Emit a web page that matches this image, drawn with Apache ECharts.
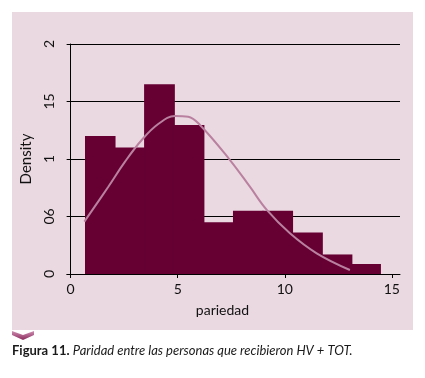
<!DOCTYPE html>
<html>
<head>
<meta charset="utf-8">
<script src="https://cdn.jsdelivr.net/npm/echarts@6/dist/echarts.min.js"></script>
<style>
  html, body { margin: 0; padding: 0; background: #fff; }
  #main { width: 425px; height: 378px; }
</style>
</head>
<body>
<div id="main"></div>
<script>
// histograma de pariedad (densidad por intervalo)
let binEdges = [0.67, 2.05, 3.43, 4.82, 6.20, 7.58, 8.96, 10.34, 11.73, 13.11, 14.49];
let density = [0.120, 0.110, 0.165, 0.1296, 0.045, 0.055, 0.055, 0.036, 0.017, 0.0087];

// curva normal
let curveX = [0.64, 1.76, 2.54, 3.32, 4.09, 4.87, 5.49, 6.04, 7.44, 8.37, 9.16, 10.24, 11.49, 13.04];
let curveY = [0.0455, 0.0759, 0.0977, 0.1165, 0.1304, 0.1374, 0.1368, 0.1296, 0.0991, 0.0759, 0.0557, 0.0354, 0.0180, 0.0035];

let xTicks = [0, 5, 10, 15];
let yTickLabels = ['0', '06', '1', '15', '2'];

let barColor = '#660033';
let font = 'Lato';

let bins = [];
for (let i = 0; i < density.length; i++) {
  bins.push([binEdges[i], binEdges[i + 1], density[i]]);
}
let curve = curveX.map((x, i) => [x, curveY[i]]);

let chart = echarts.init(document.getElementById('main'), null, { renderer: 'canvas' });

let option = {
  backgroundColor: '#fff',
  animation: false,
  graphic: [
    {
      type: 'rect', z: -10, silent: true,
      shape: { x: 12, y: 12, width: 401, height: 318 },
      style: { fill: '#ebd9e2' }
    },
    {
      type: 'polygon', silent: true,
      shape: { points: [[12, 331], [23, 335], [34, 331], [34, 335], [23, 340], [12, 335]] },
      style: {
        fill: new echarts.graphic.LinearGradient(0, 0, 0, 1, [
          { offset: 0, color: '#cf8fb2' },
          { offset: 1, color: '#8a2a5c' }
        ])
      }
    },
    {
      type: 'text', left: 12, top: 344, silent: true,
      style: {
        text: '{b|Figura 11.} {i|Paridad entre las personas que recibieron HV + TOT.}',
        rich: {
          b: { fontFamily: font, fontWeight: 'bold', fontSize: 13, fill: '#1a1a1a' },
          i: { fontFamily: font, fontStyle: 'italic', fontSize: 13, fill: '#1a1a1a' }
        }
      }
    }
  ],
  grid: { left: 67, right: 25, top: 44, bottom: 104 },
  xAxis: {
    type: 'value',
    min: -0.17,
    max: 15.38,
    name: 'pariedad',
    nameLocation: 'middle',
    nameGap: 29,
    nameTextStyle: { fontFamily: font, fontSize: 14, color: '#111', padding: [0, 22, 0, 0] },
    axisLine: { lineStyle: { color: '#000', width: 1 } },
    axisTick: { length: 4, customValues: xTicks, lineStyle: { color: '#000' } },
    axisLabel: { customValues: xTicks, margin: 8, fontFamily: font, fontSize: 14, color: '#111' },
    splitLine: { show: false }
  },
  yAxis: {
    type: 'value',
    min: 0,
    max: 0.2,
    interval: 0.05,
    name: 'Density',
    nameLocation: 'middle',
    nameGap: 31,
    nameTextStyle: { fontFamily: font, fontSize: 15, color: '#111' },
    axisLine: { show: true, lineStyle: { color: '#000', width: 1 } },
    axisTick: { show: true, length: 4, lineStyle: { color: '#000' } },
    axisLabel: {
      rotate: 90,
      margin: 11,
      fontFamily: font,
      fontSize: 14,
      color: '#111',
      formatter: function (value, index) {
        return yTickLabels[index];
      }
    },
    splitLine: { show: true, lineStyle: { color: '#000', width: 1 } }
  },
  series: [
    {
      type: 'custom',
      data: bins,
      renderItem: function (params, api) {
        let p0 = api.coord([api.value(0), api.value(2)]);
        let p1 = api.coord([api.value(1), 0]);
        // se solapa 1px con la siguiente barra para no dejar costuras
        let last = params.dataIndex === bins.length - 1;
        return {
          type: 'rect',
          shape: { x: p0[0], y: p0[1], width: p1[0] - p0[0] + (last ? 0 : 1), height: p1[1] - p0[1] },
          style: { fill: barColor }
        };
      },
      z: 2
    },
    {
      type: 'line',
      data: curve,
      smooth: 0.4,
      showSymbol: false,
      lineStyle: { color: '#b9819f', width: 2 },
      z: 3
    }
  ]
};

chart.setOption(option);
</script>
</body>
</html>
